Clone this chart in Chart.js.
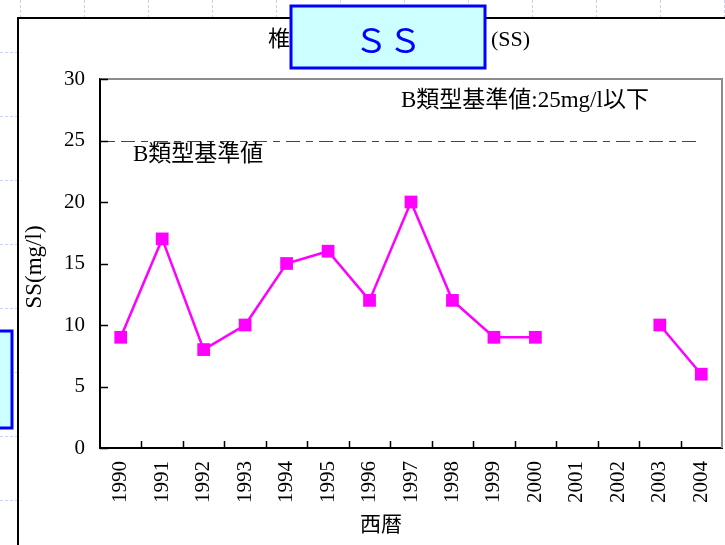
<!DOCTYPE html>
<html>
<head>
<meta charset="utf-8">
<script src="https://cdn.jsdelivr.net/npm/chart.js@4"></script>
<style>
  html, body { margin: 0; padding: 0; background: #ffffff; }
  #ssChart { display: block; }
</style>
</head>
<body>
<canvas id="ssChart" width="725" height="545"></canvas>
<script>
// yearly SS readings (mg/l); 2001-2002 have no measurement
const years = ["1990", "1991", "1992", "1993", "1994", "1995", "1996", "1997",
               "1998", "1999", "2000", "2001", "2002", "2003", "2004"];
const ssValues = [9, 17, 8, 10, 15, 16, 12, 20, 12, 9, 9, null, null, 10, 6];
const yTicks = [0, 5, 10, 15, 20, 25, 30];
const standardValue = 25;

const SERIF = "'Liberation Serif', 'Noto Sans CJK JP', serif";
const GOTHIC = "'Noto Sans CJK JP', 'Noto Sans', sans-serif";

const decorPlugin = {
  id: "decor",
  beforeDraw: (chart) => {
    const { ctx, width, height } = chart;
    ctx.save();
    ctx.fillStyle = "#ffffff";
    ctx.fillRect(0, 0, width, height);

    // faint slide grid behind the panel
    ctx.strokeStyle = "#c9d2f2";
    ctx.lineWidth = 1;
    ctx.setLineDash([3, 2]);
    for (let x = 20; x < width; x += 64) {
      ctx.beginPath();
      ctx.moveTo(x + 0.5, 0);
      ctx.lineTo(x + 0.5, height);
      ctx.stroke();
    }
    for (let y = 52; y < height; y += 64) {
      ctx.beginPath();
      ctx.moveTo(0, y + 0.5);
      ctx.lineTo(width, y + 0.5);
      ctx.stroke();
    }
    ctx.setLineDash([]);

    // white chart panel
    ctx.fillStyle = "#ffffff";
    ctx.fillRect(18, 18, width, height);
    ctx.strokeStyle = "#000000";
    ctx.lineWidth = 2;
    ctx.strokeRect(18, 18, width + 10, height + 10);

    // side box on the left edge
    ctx.fillStyle = "#ccffff";
    ctx.fillRect(-10, 331, 22, 97);
    ctx.strokeStyle = "#0000ff";
    ctx.lineWidth = 3;
    ctx.strokeRect(-10, 331, 22, 97);
    ctx.restore();
  },
  afterDraw: (chart) => {
    const { ctx, chartArea, scales } = chart;
    const xs = scales.x, ys = scales.y;
    ctx.save();

    // gray frame on top and right of the plot
    ctx.strokeStyle = "#8c8c8c";
    ctx.lineWidth = 2;
    ctx.beginPath();
    ctx.moveTo(chartArea.left, chartArea.top);
    ctx.lineTo(chartArea.right, chartArea.top);
    ctx.lineTo(chartArea.right, chartArea.bottom);
    ctx.stroke();

    // inward tick marks
    ctx.strokeStyle = "#000000";
    ctx.lineWidth = 1.5;
    yTicks.forEach((v) => {
      const y = Math.round(ys.getPixelForValue(v)) + 0.5;
      ctx.beginPath();
      ctx.moveTo(chartArea.left, y);
      ctx.lineTo(chartArea.left + 8, y);
      ctx.stroke();
    });
    for (let i = 1; i < years.length; i++) {
      const x = Math.round((xs.getPixelForValue(i - 1) + xs.getPixelForValue(i)) / 2) + 0.5;
      ctx.beginPath();
      ctx.moveTo(x, chartArea.bottom);
      ctx.lineTo(x, chartArea.bottom - 7);
      ctx.stroke();
    }

    // B-class standard line
    const ys25 = Math.round(ys.getPixelForValue(standardValue)) + 0.5;
    ctx.strokeStyle = "#444444";
    ctx.lineWidth = 1.2;
    ctx.setLineDash([7, 6, 14, 6]);
    ctx.beginPath();
    ctx.moveTo(chartArea.left + 8, ys25);
    ctx.lineTo(xs.getPixelForValue(years.length - 1), ys25);
    ctx.stroke();
    ctx.setLineDash([]);

    ctx.fillStyle = "#000000";
    ctx.textBaseline = "middle";
    ctx.textAlign = "left";
    ctx.font = "23px " + SERIF;
    ctx.fillText("B類型基準値", 133, ys25 + 13);
    ctx.fillText("B類型基準値:25mg/l以下", 401, 101);

    // axis titles
    ctx.font = "21px " + SERIF;
    ctx.textAlign = "center";
    ctx.fillText("西暦", 381, 525);
    ctx.save();
    ctx.translate(35, 267);
    ctx.rotate(-Math.PI / 2);
    ctx.font = "23px " + SERIF;
    ctx.fillText("SS(mg/l)", 0, 0);
    ctx.restore();

    // chart title, partly covered by the label box
    ctx.font = "22px " + SERIF;
    ctx.textAlign = "right";
    ctx.fillText("椎", 290, 40);
    ctx.textAlign = "left";
    ctx.fillText("(SS)", 491, 40);

    ctx.fillStyle = "#ccffff";
    ctx.fillRect(291, 6, 194, 62);
    ctx.strokeStyle = "#0000ff";
    ctx.lineWidth = 3;
    ctx.strokeRect(291, 6, 194, 62);
    ctx.fillStyle = "#0000ff";
    ctx.textAlign = "center";
    ctx.font = "34px " + GOTHIC;
    ctx.fillText("ＳＳ", 388, 40);
    ctx.restore();
  },
};

new Chart(document.getElementById("ssChart"), {
  type: "line",
  data: {
    labels: years,
    datasets: [
      {
        data: ssValues,
        borderColor: "#ff00ff",
        backgroundColor: "#ff00ff",
        borderWidth: 2.5,
        pointStyle: "rect",
        pointRadius: 9,
        pointBorderWidth: 0,
        spanGaps: false,
        tension: 0,
      },
    ],
  },
  options: {
    responsive: false,
    animation: false,
    layout: { autoPadding: false, padding: { left: 0, top: 79, right: 3, bottom: 0 } },
    plugins: {
      legend: { display: false },
      tooltip: { enabled: false },
    },
    scales: {
      x: {
        type: "category",
        offset: true,
        afterFit: (scale) => {
          scale.height = 97;
          scale.paddingLeft = 0;
          scale.paddingRight = 0;
        },
        grid: { display: true, drawOnChartArea: false, drawTicks: false },
        border: { display: true, color: "#000000", width: 2 },
        ticks: {
          minRotation: 90,
          maxRotation: 90,
          padding: 13,
          color: "#000000",
          font: { family: SERIF, size: 21 },
        },
      },
      y: {
        min: 0,
        max: 30,
        afterFit: (scale) => {
          scale.width = 100;
          scale.paddingTop = 0;
          scale.paddingBottom = 0;
        },
        afterBuildTicks: (scale) => { scale.ticks = yTicks.map((v) => ({ value: v })); },
        grid: { display: true, drawOnChartArea: false, drawTicks: false },
        border: { display: true, color: "#000000", width: 2 },
        ticks: {
          padding: 15,
          color: "#000000",
          font: { family: SERIF, size: 21 },
        },
      },
    },
  },
  plugins: [decorPlugin],
});
</script>
</body>
</html>
